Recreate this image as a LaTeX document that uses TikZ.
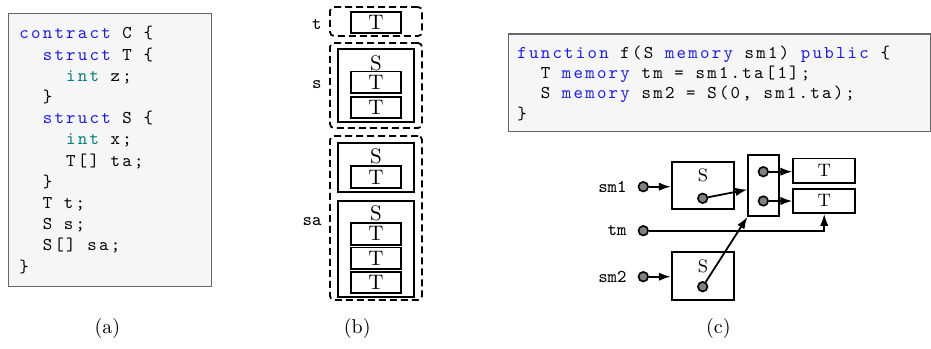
\documentclass[tikz,border=0pt]{standalone}
\usepackage{fontspec}
\usepackage{tikz}
\usetikzlibrary{arrows.meta}
\newfontfamily\codefont{lmmono10-regular.otf}[LetterSpace=12.5]
\definecolor{kwblue}{RGB}{25,25,255}
\definecolor{tyteal}{RGB}{0,128,128}
\definecolor{codebg}{RGB}{246,246,246}
\newcommand{\kw}[1]{\textcolor{kwblue}{#1}}
\newcommand{\ty}[1]{\textcolor{tyteal}{#1}}
\newlength{\cw}
\setlength{\cw}{5.85pt}
\tikzstyle{codebox} = [rectangle, draw=black!60, fill=codebg, line width=0.6pt, inner sep=0pt, anchor=north west]
\tikzstyle{codetext} = [inner sep=0pt, anchor=north west, align=left]
\tikzstyle{slot} = [rectangle, draw, line width=0.9pt, dash pattern=on 3.5pt off 2pt, rounded corners=2pt, inner sep=0pt, minimum width=46pt]
\tikzstyle{sbox} = [rectangle, draw, line width=0.9pt, inner sep=0pt]
\tikzstyle{tbox} = [rectangle, draw, line width=0.9pt, inner sep=0pt, minimum width=24.9pt, minimum height=10.8pt, font=\fontsize{10.5}{12}\selectfont]
\tikzstyle{slabel} = [inner sep=0pt, font=\fontsize{10.5}{12}\selectfont]
\tikzstyle{varname} = [anchor=east, inner sep=0pt, font=\ttfamily\fontsize{9}{11}\selectfont]
\tikzstyle{ptr} = [circle, draw, line width=0.8pt, fill=gray, minimum size=4.8pt, inner sep=0pt]
\tikzstyle{arrow} = [line width=0.9pt, -{Latex[length=6pt, width=4.2pt]}]

\begin{document}
\begin{tikzpicture}[x=0.5pt, y=-0.5pt]
\useasboundingbox (0,0) rectangle (931,348);

% (a) contract
\node[codebox, minimum width=101.5pt, minimum height=136.5pt] (contractbox) at (8,13) {};
\node[codetext, font=\codefont\fontsize{9}{10.6}\selectfont] (contract) at (19,26) {%
\kw{contract} C \{\\
\hspace*{2\cw}\kw{struct} T \{\\
\hspace*{4\cw}\ty{int} z;\\
\hspace*{2\cw}\}\\
\hspace*{2\cw}\kw{struct} S \{\\
\hspace*{4\cw}\ty{int} x;\\
\hspace*{4\cw}T[] ta;\\
\hspace*{2\cw}\}\\
\hspace*{2\cw}T t;\\
\hspace*{2\cw}S s;\\
\hspace*{2\cw}S[] sa;\\
\}};

% (b) storage layout
\node[varname] (tname) at (322,25) {t};
\node[slot, minimum height=14.5pt] (tslot) at (376,21.5) {};
\node[tbox] (tt) at (376,22.5) {T};

\node[varname] (sname) at (322,85) {s};
\node[slot, minimum height=42.5pt] (sslot) at (376,85.5) {};
\node[sbox, minimum width=37.9pt, minimum height=36.5pt] (ss) at (376,85.8) {};
\node[slabel] (sslabel) at (376,63.3) {S};
\node[tbox] (st1) at (376,82.2) {T};
\node[tbox] (st2) at (376,107.5) {T};

\node[varname] (saname) at (322,221.7) {sa};
\node[slot, minimum height=82pt] (saslot) at (376,218) {};
\node[sbox, minimum width=37.9pt, minimum height=24.8pt] (sa1) at (376,167.5) {};
\node[slabel] (sa1label) at (376,156.7) {S};
\node[tbox] (sa1t) at (376,177) {T};
\node[sbox, minimum width=37.9pt, minimum height=48pt] (sa2) at (376,248.7) {};
\node[slabel] (sa2label) at (376,213.3) {S};
\node[tbox] (sa2t1) at (376,233.8) {T};
\node[tbox] (sa2t2) at (376,258.3) {T};
\node[tbox] (sa2t3) at (376,282.5) {T};

% (c) function
\node[codebox, minimum width=211.2pt, minimum height=48.9pt] (funcbox) at (507.7,33.3) {};
\node[codetext, font=\codefont\fontsize{9}{10.15}\selectfont] (func) at (517,45.5) {%
\kw{function} f(S \kw{memory} sm1) \kw{public} \{\\
\hspace*{2\cw}T \kw{memory} tm = sm1.ta[1];\\
\hspace*{2\cw}S \kw{memory} sm2 = S(0, sm1.ta);\\
\}};

\node[varname] (sm1) at (627,186.7) {sm1};
\node[ptr] (sm1ptr) at (643.3,186.7) {};
\node[sbox, minimum width=31.2pt, minimum height=23.8pt] (s1) at (702.9,185.5) {};
\node[inner sep=0pt, font=\small] (s1label) at (703,175) {S};
\node[ptr] (s1ptr) at (702.7,198.3) {};

\node[sbox, minimum width=15.5pt, minimum height=30.5pt] (arr) at (763.8,185.5) {};
\node[ptr] (arr1) at (763.3,171.7) {};
\node[ptr] (arr2) at (763.3,201) {};
\node[tbox, minimum width=30.9pt, minimum height=12.1pt, font=\small] (t1) at (824.2,170.5) {T};
\node[tbox, minimum width=30.9pt, minimum height=12.1pt, font=\small] (t2) at (824.2,200.9) {T};

\node[varname] (tm) at (627,230.7) {tm};
\node[ptr] (tmptr) at (643.3,230.7) {};

\node[varname] (sm2) at (627,276.7) {sm2};
\node[ptr] (sm2ptr) at (643.3,276.7) {};
\node[sbox, minimum width=31.2pt, minimum height=24.2pt] (s2) at (702.9,275.8) {};
\node[inner sep=0pt, font=\small] (s2label) at (703,266) {S};
\node[ptr] (s2ptr) at (702.7,286.7) {};

\draw[arrow] (sm1ptr) -- (sm1ptr -| s1.west);
\draw[arrow] (s1ptr) -- (arr.194);
\draw[arrow] (arr1) -- (arr1 -| t1.west);
\draw[arrow] (arr2) -- (arr2 -| t2.west);
\draw[arrow] (tmptr) -| (t2.south);
\draw[arrow] (sm2ptr) -- (sm2ptr -| s2.west);
\draw[arrow] (s2ptr) -- (arr.south west);

% captions
\node (capa) at (107.3,328.3) {(a)};
\node (capb) at (357.3,328.3) {(b)};
\node (capc) at (718.3,328.3) {(c)};

\end{tikzpicture}
\end{document}
